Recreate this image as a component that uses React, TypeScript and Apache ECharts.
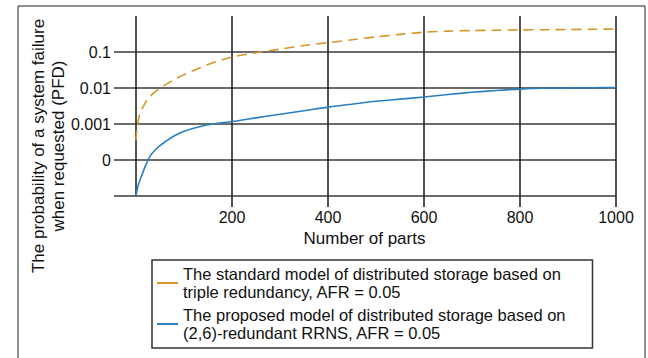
import React, { useEffect, useRef } from "react";
import * as echarts from "echarts";

const parts = [0, 2, 5, 10, 20, 30, 40, 50, 60, 80, 100, 130, 160, 200, 250, 300, 350, 400, 450, 500, 550, 600, 650, 700, 750, 800, 850, 900, 950, 1000];

const standardPFD = [3.5e-4, 7.5e-4, 1.3e-3, 2.2e-3, 4.0e-3, 5.9e-3, 7.9e-3, 0.0099, 0.0119, 0.0172, 0.0235, 0.035, 0.05, 0.072, 0.0955, 0.12, 0.151, 0.182, 0.219, 0.263, 0.309, 0.355, 0.38, 0.394, 0.403, 0.412, 0.417, 0.422, 0.427, 0.437];

const proposedPFD = [1e-5, 1.41e-5, 2.1e-5, 3.16e-5, 7.1e-5, 1.32e-4, 1.9e-4, 2.5e-4, 3.16e-4, 4.7e-4, 6.3e-4, 8.3e-4, 1.0e-3, 1.17e-3, 1.48e-3, 1.86e-3, 2.34e-3, 2.95e-3, 3.55e-3, 4.27e-3, 4.9e-3, 5.6e-3, 6.6e-3, 7.6e-3, 8.5e-3, 9.3e-3, 9.8e-3, 1.0e-2, 1.02e-2, 1.035e-2];

const yTickExponents = [-5, -4, -3, -2, -1, 0];
const yTickLabels = ["", "0", "0.001", "0.01", "0.1", ""];

const xTicks = [0, 200, 400, 600, 800, 1000];

const seriesNames = [
  "The standard model of distributed storage based on\ntriple redundancy, AFR = 0.05",
  "The proposed model of distributed storage based on\n(2,6)-redundant RRNS, AFR = 0.05",
];

const FONT = "'Liberation Sans', Arial, Helvetica, sans-serif";

export default function App() {
  const ref = useRef<HTMLDivElement>(null);

  useEffect(() => {
    if (!ref.current) return;
    const chart = echarts.init(ref.current, null, { renderer: "svg" });
    const gridColor = "#6b6b6b";
    chart.setOption({
      animation: false,
      backgroundColor: "#ffffff",
      textStyle: { fontFamily: FONT },
      grid: [
        { left: 114, right: 32, top: 16, bottom: 162 },
        { left: 136, right: 32, top: 16, bottom: 162 },
      ],
      xAxis: [
        { gridIndex: 0, type: "value", min: 0, max: 1, show: false },
        {
          gridIndex: 1,
          type: "value",
          min: xTicks[0],
          max: xTicks[xTicks.length - 1],
          interval: 200,
          axisLine: { show: false },
          axisTick: { show: true, length: 11, lineStyle: { color: "#1a1a1a", width: 1.5 } },
          splitLine: { show: true, lineStyle: { color: "#1a1a1a", width: 1.5 } },
          axisLabel: {
            showMinLabel: false,
            margin: 13,
            fontSize: 16,
            color: "#111",
            fontFamily: FONT,
            formatter: (v: number) => String(v),
          },
          name: "Number of parts",
          nameLocation: "middle",
          nameGap: 34,
          nameTextStyle: { fontSize: 17, color: "#111", fontFamily: FONT, padding: [0, 23, 0, 0] },
        },
      ],
      yAxis: [
        {
          gridIndex: 0,
          type: "log",
          logBase: 10,
          min: Math.pow(10, yTickExponents[0]),
          max: Math.pow(10, yTickExponents[yTickExponents.length - 1]),
          splitNumber: 5,
          axisLine: { show: false },
          axisTick: { show: false },
          splitLine: {
            show: true,
            showMaxLine: false,
            lineStyle: {
              color: [gridColor, gridColor, gridColor, gridColor, gridColor, "rgba(0,0,0,0)"],
              width: 2,
            },
          },
          axisLabel: {
            margin: 3,
            fontSize: 16,
            color: "#111",
            fontFamily: FONT,
            verticalAlign: "middle",
            padding: [0, 0, 10, 0],
            formatter: (v: number) => {
              const e = Math.round(Math.log10(v));
              const i = yTickExponents.indexOf(e);
              return i >= 0 ? yTickLabels[i] : "";
            },
          },
        },
        {
          gridIndex: 1,
          type: "log",
          logBase: 10,
          min: Math.pow(10, yTickExponents[0]),
          max: Math.pow(10, yTickExponents[yTickExponents.length - 1]),
          show: false,
        },
      ],
      legend: {
        left: 152,
        top: 260,
        orient: "vertical",
        padding: [5, 27, 6, 5],
        itemGap: 5,
        borderColor: "#333",
        borderWidth: 1.5,
        icon: "rect",
        itemWidth: 21,
        itemHeight: 2,
        textStyle: { fontSize: 16.5, lineHeight: 18, color: "#111", fontFamily: FONT },
        data: seriesNames,
      },
      graphic: [
        {
          type: "rect",
          shape: { x: 18, y: 6, width: 627, height: 400 },
          style: { fill: "none", stroke: "#222", lineWidth: 1 },
          silent: true,
        },
        {
          type: "text",
          x: 48,
          y: 146,
          rotation: Math.PI / 2,
          style: {
            text: "The probability of a system failure\nwhen requested (PFD)",
            fontSize: 17,
            lineHeight: 20,
            fill: "#111",
            fontFamily: FONT,
            textAlign: "center",
            textVerticalAlign: "middle",
          },
        },
      ],
      series: [
        {
          name: seriesNames[0],
          type: "line",
          xAxisIndex: 1,
          yAxisIndex: 1,
          showSymbol: false,
          smooth: 0.3,
          color: "#d8952a",
          lineStyle: { color: "#d8952a", width: 1.6, type: [10, 6] },
          data: parts.map((p, i) => [p, standardPFD[i]]),
        },
        {
          name: seriesNames[1],
          type: "line",
          xAxisIndex: 1,
          yAxisIndex: 1,
          showSymbol: false,
          smooth: 0.3,
          color: "#2a80c0",
          lineStyle: { color: "#2a80c0", width: 1.6 },
          data: parts.map((p, i) => [p, proposedPFD[i]]),
        },
      ],
    });
    return () => chart.dispose();
  }, []);

  return (
    <div
      ref={ref}
      style={{ position: "absolute", left: 0, top: 0, width: 648, height: 358, background: "#fff" }}
    />
  );
}
